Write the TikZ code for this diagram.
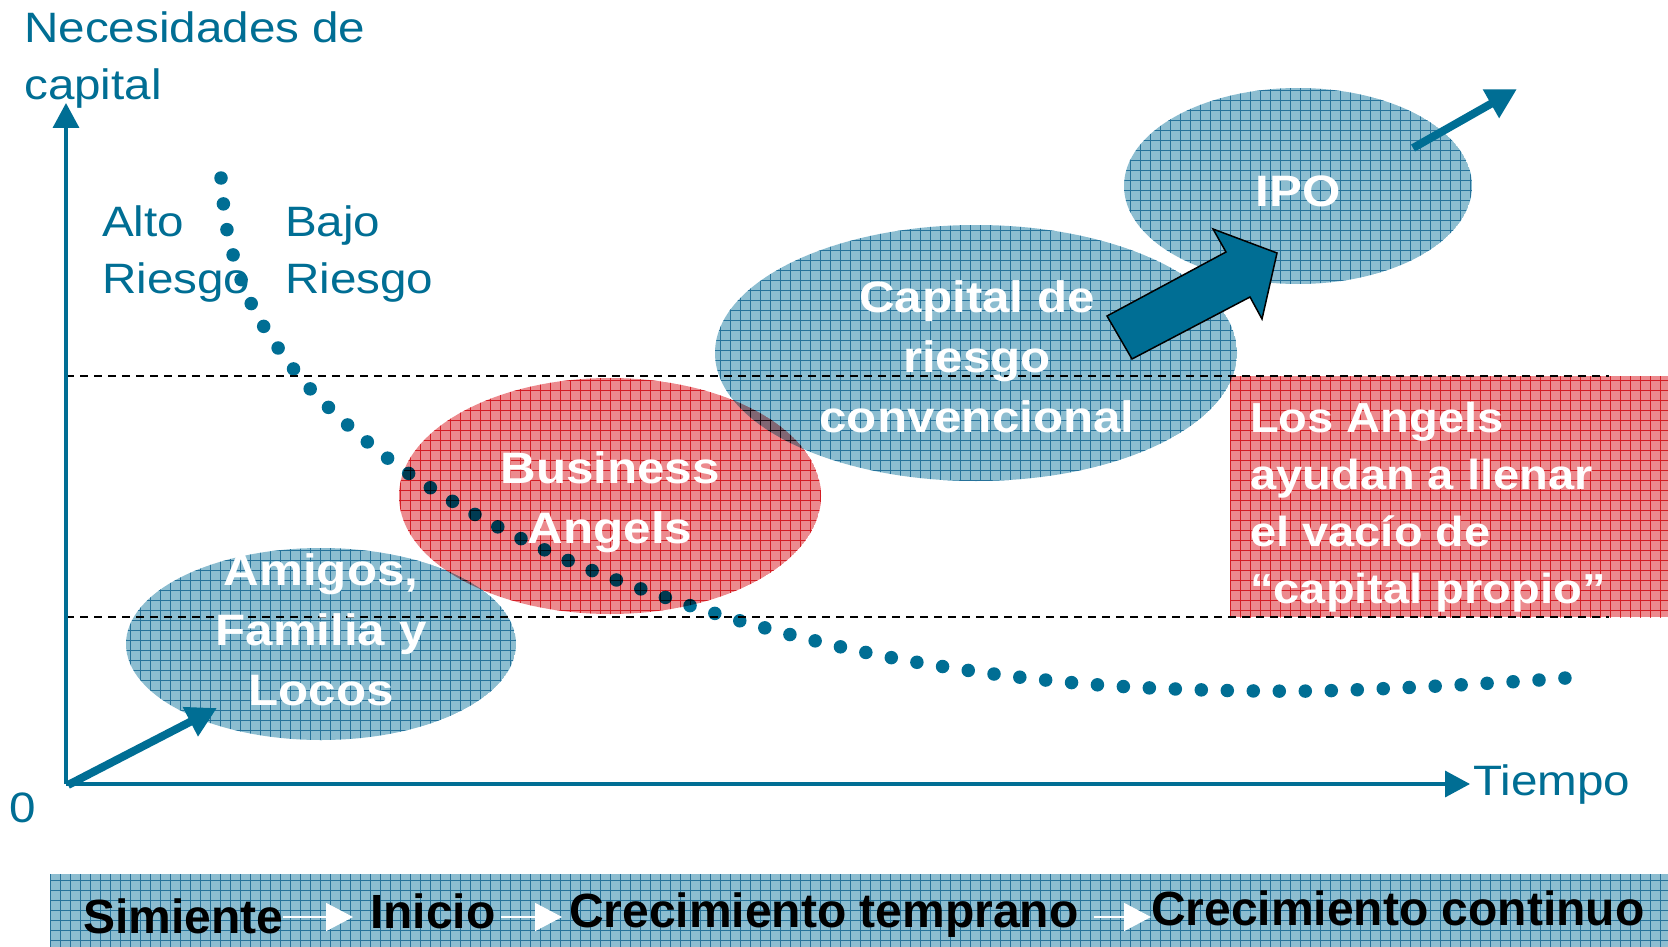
\documentclass[tikz,border=0pt]{standalone}
\usepackage{fontspec}
\setmainfont{Liberation Sans}
\newfontfamily\wf[FakeStretch=1.12]{Liberation Sans}
\usetikzlibrary{arrows.meta}
\definecolor{teal0}{RGB}{0,110,148}
\definecolor{bbase}{RGB}{140,189,208}
\definecolor{bline}{RGB}{70,155,190}
\definecolor{rbase}{RGB}{236,138,142}
\definecolor{rline}{RGB}{228,55,66}
\newcommand\patfill[3]{%
  \begin{scope}[blend mode=multiply]
    \begin{scope}
      \clip #1;
      \fill[#2] #1;
      \draw[#3, line width=0.7pt, step=10pt] (0,0) grid (1668,947);
    \end{scope}
  \end{scope}}
\begin{document}
\begin{tikzpicture}[x=1pt,y=-1pt,
  ntext/.style={text=teal0, font=\wf\fontsize{42.5}{57}\selectfont, inner sep=0pt, align=left},
  btext/.style={text=white, font=\wf\bfseries\fontsize{44}{60}\selectfont, inner sep=0pt, align=center},
  ltext/.style={text=white, font=\wf\bfseries\fontsize{42}{57}\selectfont, inner sep=0pt, align=left},
  bartext/.style={text=black, font=\bfseries\fontsize{48}{58}\selectfont, inner sep=0pt},
  axis/.style={draw=teal0, line width=3.5pt, -{Triangle[length=25pt,width=26pt]}},
  thickarrow/.style={draw=teal0, line width=8pt, -{Triangle[length=30pt,width=31pt]}},
  barrow/.style={draw=white, line width=2pt, -{Triangle[length=27pt,width=28pt]}},
  guide/.style={draw=black, line width=2pt, dash pattern=on 8pt off 6pt},
  dots/.style={draw=teal0, line width=13.5pt, line cap=round, dash pattern=on 0pt off 26pt}
]
\useasboundingbox (0,0) rectangle (1668,947);
\fill[white] (0,0) rectangle (1668,947);

% dotted risk curve
\draw[dots] plot[smooth, tension=0.55] coordinates {(221,178) (227,230) (242,282) (266,330) (315,394) (394,463) (485,520) (581,566) (682,603) (784,633) (888,657) (994,674) (1100,685) (1206,690) (1313,691) (1419,687) (1525,681) (1590,676)};

% patterned shapes
\patfill{(321,644) ellipse [x radius=195pt, y radius=96pt]}{bbase}{bline}
\patfill{(610,496) ellipse [x radius=211pt, y radius=118pt]}{rbase}{rline}
\patfill{(976,353) ellipse [x radius=261pt, y radius=128pt]}{bbase}{bline}
\patfill{(1298,186) ellipse [x radius=174pt, y radius=98pt]}{bbase}{bline}
\patfill{(1230,376) rectangle (1668,617)}{rbase}{rline}
\patfill{(50,874) rectangle (1668,947)}{bbase}{bline}

% guide lines
\coordinate (g1a) at (66,376); \coordinate (g1b) at (1609,376);
\coordinate (g2a) at (66,617); \coordinate (g2b) at (1609,617);
\draw[guide] (g1a) -- (g1b);
\draw[guide] (g2a) -- (g2b);

% axes
\coordinate (O) at (66,784);
\coordinate (ytip) at (66,103);
\coordinate (xtip) at (1470,784);
\draw[axis] (O) -- (ytip);
\draw[axis] (O) -- (xtip);

% arrows
\coordinate (a0) at (68,785);
\coordinate (a1) at (217,708);
\draw[thickarrow] (a0) -- (a1);
\coordinate (b0) at (1413,148);
\coordinate (b1) at (1517,89);
\draw[thickarrow] (b0) -- (b1);
\draw[fill=teal0, draw=black, line width=1.5pt, line join=miter]
  (1107,316) -- (1226,252) -- (1213,229) -- (1277,253) -- (1262,319) -- (1250,297) -- (1132,359) -- cycle;

% axis labels (anchor = baseline of last line)
\node[ntext, anchor=base west] (ylab) at (24,100) {Necesidades de\\capital};
\node[ntext, anchor=base west] (alto) at (102,293) {Alto\\Riesgo};
\node[ntext, anchor=base west] (bajo) at (285,293) {Bajo\\Riesgo};
\node[ntext] (zero) at (23,808) {0};
\node[ntext, anchor=base west] (tiempo) at (1473,795) {Tiempo};

% shape texts
\node[btext, anchor=base] (amigos) at (321,705) {Amigos,\\Familia y\\Locos};
\node[btext, anchor=base] (ba) at (610,543) {Business\\Angels};
\node[btext, anchor=base] (crc) at (977,432) {Capital de\\riesgo\\convencional};
\node[btext, anchor=base] (ipo) at (1298,206) {IPO};
\node[ltext, anchor=base west] (los) at (1250,603) {Los Angels\\ayudan a llenar\\el vacío de\\“capital propio”};

% stage bar
\node[bartext, anchor=base west] (sim) at (83,933) {Simiente};
\node[bartext, anchor=base west] (ini) at (370,928) {Inicio};
\node[bartext, anchor=base west] (ct) at (569,927) {Crecimiento temprano};
\node[bartext, anchor=base west] (cc) at (1151,925) {Crecimiento continuo};
\coordinate (ay) at (0,917);
\draw[barrow, shorten >=17pt] (sim.east |- ay) -- (ini.west |- ay);
\draw[barrow, shorten >=7pt, shorten <=5pt] (ini.east |- ay) -- (ct.west |- ay);
\draw[barrow, shorten <=15pt] (ct.east |- ay) -- (cc.west |- ay);
\end{tikzpicture}
\end{document}
